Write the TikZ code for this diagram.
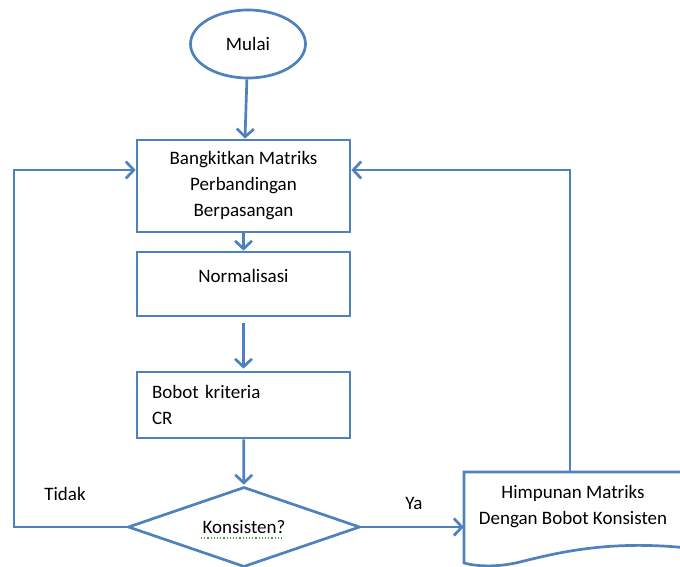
\documentclass[tikz,border=0pt]{standalone}
\usepackage{fontspec}
\setmainfont{Carlito}
\usetikzlibrary{arrows.meta}
\usetikzlibrary{shapes.geometric}
\definecolor{flowblue}{RGB}{79,129,189}
\definecolor{spellgreen}{RGB}{70,160,60}

\begin{document}
\begin{tikzpicture}[x=1pt, y=-1pt,
  line/.style={draw=flowblue, line width=2.7pt},
  arr/.style={line, -{Straight Barb[length=8pt, width=17pt]}},
  lbl/.style={font=\fontsize{19}{26}\selectfont},
  box/.style={line, lbl, rectangle, minimum width=213pt, align=center}]
  \useasboundingbox (0,0) rectangle (680,567);

  % Start
  \node[line, lbl, ellipse, minimum width=115pt, minimum height=68pt] (mulai) at (248,44) {Mulai};

  % Process boxes
  \node[box, minimum height=92pt] (bangkit) at (243.5,186) {Bangkitkan Matriks\\Perbandingan\\Berpasangan};
  \node[box, minimum height=64pt, text height=14pt, text depth=18pt] (norm) at (243.5,284) {Normalisasi};
  \node[box, minimum height=66pt, align=left, text width=183pt, inner xsep=15pt] (bobot) at (243.5,405) {Bobot kriteria\\CR};

  % Decision
  \node[line, lbl, diamond, aspect=2.9, inner sep=0pt, minimum width=232pt, minimum height=80pt] (konsisten) at (244,527) {Konsisten?};
  \draw[spellgreen, line width=1.2pt, dotted] (201,538) -- (284,538); % spell check mark

  % Result (document shape)
  \node[lbl, align=center, minimum width=218pt, anchor=north, inner ysep=13pt] (himpunan) at (573,472) {Himpunan Matriks\\Dengan Bobot Konsisten};
  \draw[line] (464,472) -- (688,472) -- (688,548) .. controls (610,540) and (560,552) .. (520,562) .. controls (495,568) and (475,566) .. (464,563) -- cycle;

  % Corners of the loops
  \coordinate (lcorner) at (14,170);
  \coordinate (rcorner) at (570,170);
  \coordinate (himtop) at (570,472);

  % Routings
  \draw[arr] (mulai) -- (bangkit);
  \draw[arr] (bangkit) -- (norm);
  \draw[arr, shorten <=6pt, shorten >=2pt] (norm) -- (bobot);
  \draw[arr, shorten >=1pt] (bobot) -- (konsisten);
  \draw[arr] (konsisten.west) -| (lcorner) -- (lcorner -| bangkit.west); % Tidak
  \draw[arr] (konsisten.east) -- (konsisten.east -| himpunan.west); % Ya
  \draw[arr] (himtop) -- (rcorner) -- (rcorner -| bangkit.east); % back to start

  % Branch labels
  \node[lbl] (tidak) at (65,494) {Tidak};
  \node[lbl] (ya) at (414,503) {Ya};
\end{tikzpicture}
\end{document}
